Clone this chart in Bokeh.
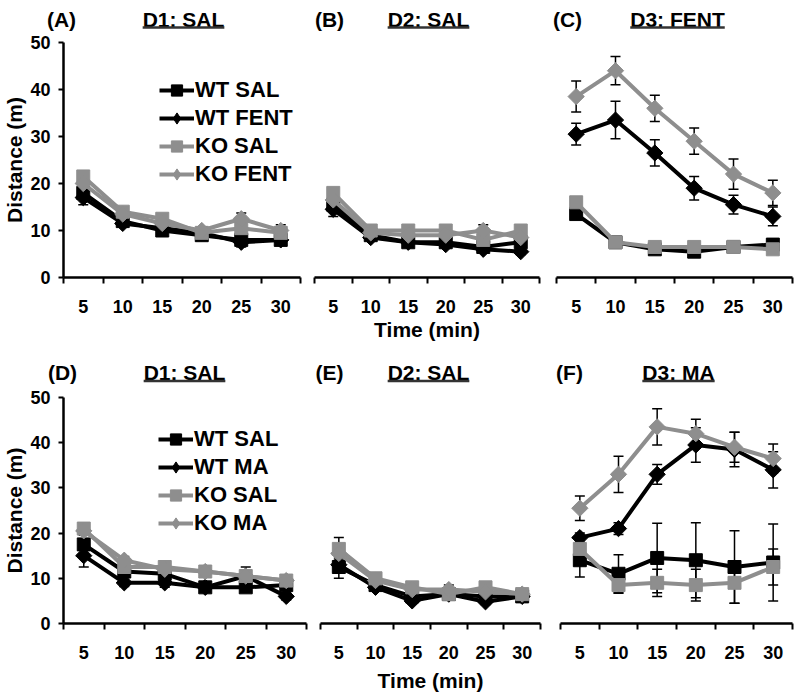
import numpy as np
from bokeh.plotting import figure
from bokeh.models import (Range1d, FixedTicker, Legend, LegendItem, Whisker, TeeHead,
                          ColumnDataSource)
from bokeh.core.properties import value
from bokeh.layouts import row, column
from bokeh.embed import file_html
from bokeh.resources import INLINE

# ---------------- data ----------------
times = [5, 10, 15, 20, 25, 30]
y_ticks = [0, 10, 20, 30, 40, 50]

panel_tags_top = ["(A)", "(B)", "(C)"]
panel_names_top = ["D1: SAL", "D2: SAL", "D3: FENT"]
panel_tags_bot = ["(D)", "(E)", "(F)"]
panel_names_bot = ["D1: SAL", "D2: SAL", "D3: MA"]

# (A) D1: SAL  (fentanyl cohort)
wt_sal_A = [18.0, 12.0, 10.0, 9.0, 8.0, 8.0]
wt_fent_A = [17.0, 11.5, 10.5, 9.5, 7.5, 8.0]
ko_sal_A = [21.5, 14.0, 12.5, 9.5, 10.5, 9.5]
ko_fent_A = [20.0, 13.5, 11.5, 10.0, 12.5, 10.0]
err_wt_sal_A = [1.0, 0.8, 0.8, 0.8, 0.8, 0.8]
err_wt_fent_A = [1.5, 0.8, 0.8, 0.8, 1.0, 0.8]
err_ko_sal_A = [1.2, 0.8, 0.8, 0.8, 1.0, 1.0]
err_ko_fent_A = [1.2, 0.8, 0.8, 0.8, 1.2, 1.2]

# (B) D2: SAL
wt_sal_B = [15.5, 9.0, 7.5, 7.5, 6.5, 7.5]
wt_fent_B = [14.5, 8.5, 7.5, 7.0, 6.0, 5.5]
ko_sal_B = [18.0, 10.0, 10.0, 10.0, 8.0, 10.0]
ko_fent_B = [16.5, 9.5, 9.0, 9.0, 10.0, 8.5]
err_wt_sal_B = [1.0, 0.6, 0.6, 0.6, 0.6, 0.6]
err_wt_fent_B = [1.5, 0.6, 0.6, 0.6, 0.6, 0.6]
err_ko_sal_B = [1.0, 0.6, 0.6, 0.6, 0.8, 0.8]
err_ko_fent_B = [1.0, 0.6, 0.6, 0.6, 1.2, 0.8]

# (C) D3: FENT
wt_sal_C = [13.5, 7.5, 6.0, 5.5, 6.5, 7.0]
wt_fent_C = [30.5, 33.5, 26.5, 19.0, 15.5, 13.0]
ko_sal_C = [16.0, 7.5, 6.5, 6.5, 6.5, 6.0]
ko_fent_C = [38.5, 44.0, 36.0, 29.0, 22.0, 18.0]
err_wt_sal_C = [0.8, 0.6, 0.6, 0.6, 0.6, 0.6]
err_wt_fent_C = [2.3, 4.0, 2.8, 2.5, 2.0, 2.0]
err_ko_sal_C = [0.8, 0.6, 0.6, 0.6, 0.6, 0.6]
err_ko_fent_C = [3.3, 3.0, 2.8, 2.8, 3.2, 2.7]

# (D) D1: SAL  (methamphetamine cohort)
wt_sal_D = [17.5, 11.5, 11.0, 8.0, 8.0, 8.5]
wt_ma_D = [15.0, 9.0, 9.0, 8.0, 10.5, 6.0]
ko_sal_D = [21.0, 12.5, 12.5, 11.5, 10.5, 9.5]
ko_ma_D = [20.5, 14.0, 12.0, 11.5, 10.5, 9.5]
err_wt_sal_D = [1.2, 0.8, 0.8, 0.8, 1.0, 0.8]
err_wt_ma_D = [2.5, 0.8, 1.0, 0.8, 0.8, 0.8]
err_ko_sal_D = [1.0, 0.8, 0.8, 0.8, 1.0, 0.8]
err_ko_ma_D = [1.0, 0.8, 0.8, 0.8, 2.0, 0.8]

# (E) D2: SAL
wt_sal_E = [12.5, 8.5, 6.0, 6.5, 6.0, 6.0]
wt_ma_E = [13.0, 8.0, 5.0, 6.5, 4.8, 6.0]
ko_sal_E = [16.5, 10.0, 8.0, 6.5, 8.0, 6.5]
ko_ma_E = [15.5, 9.5, 7.5, 7.5, 7.0, 6.5]
err_wt_sal_E = [2.5, 0.6, 0.6, 0.6, 0.6, 0.6]
err_wt_ma_E = [1.5, 0.6, 0.6, 0.6, 0.6, 0.6]
err_ko_sal_E = [2.5, 0.6, 0.6, 0.6, 0.6, 0.6]
err_ko_ma_E = [1.5, 0.6, 0.6, 1.0, 0.6, 0.6]

# (F) D3: MA
wt_sal_F = [14.0, 11.0, 14.5, 14.0, 12.5, 13.5]
wt_ma_F = [19.0, 21.0, 33.0, 39.5, 38.5, 34.0]
ko_sal_F = [16.5, 8.5, 9.0, 8.5, 9.0, 12.5]
ko_ma_F = [25.5, 33.0, 43.5, 42.0, 39.0, 36.5]
err_wt_sal_F = [3.7, 4.2, 7.7, 8.3, 8.0, 8.5]
err_wt_ma_F = [1.0, 1.3, 2.2, 3.8, 3.8, 4.0]
err_ko_sal_F = [2.0, 1.8, 3.0, 3.5, 4.5, 4.0]
err_ko_ma_F = [2.7, 4.0, 4.0, 3.2, 3.3, 3.2]

# ---------------- style ----------------
FONT = "Liberation Sans"
BLACK = "#000000"
GREY = "#8e8e8e"
HALF = (times[1] - times[0]) / 2.0
X0, X1 = times[0] - HALF, times[-1] + HALF
boundaries = [t - HALF for t in times] + [times[-1] + HALF]

# Liberation Sans Bold advance widths (em), used for the underline length
EM = {"D": .722, "1": .556, "2": .556, "3": .556, ":": .333, " ": .278, "S": .667,
      "A": .722, "L": .611, "F": .611, "E": .667, "N": .722, "T": .611, "M": .833}
TITLE_PX = 21
TOTAL_W = 794


def make_panel(width, height, bl, br, bt, bb, yaxis=False, xlabel=None, xlab_standoff=2):
    p = figure(width=width, height=height, x_range=Range1d(X0, X1), y_range=Range1d(0, 50),
               output_backend="svg", toolbar_location=None, title=None,
               y_axis_location="left" if yaxis else None,
               min_border_left=bl, min_border_right=br, min_border_top=bt, min_border_bottom=bb)
    p.outline_line_color = None
    p.xgrid.visible = False
    p.ygrid.visible = False
    xa = p.xaxis[0]
    xa.ticker = FixedTicker(ticks=times, minor_ticks=boundaries)
    xa.axis_line_width = 2.5
    xa.axis_line_color = BLACK
    xa.major_tick_line_color = None
    xa.major_tick_out = 0
    xa.major_tick_in = 0
    xa.minor_tick_out = 6
    xa.minor_tick_in = 0
    xa.minor_tick_line_width = 2
    xa.minor_tick_line_color = BLACK
    xa.major_label_text_font = FONT
    xa.major_label_text_font_style = "bold"
    xa.major_label_text_font_size = "18px"
    xa.major_label_text_color = BLACK
    xa.major_label_standoff = 16
    if xlabel:
        xa.axis_label = xlabel
        xa.axis_label_text_font = FONT
        xa.axis_label_text_font_style = "bold"
        xa.axis_label_text_font_size = "21px"
        xa.axis_label_text_color = BLACK
        xa.axis_label_standoff = xlab_standoff
    if yaxis:
        ya = p.yaxis[0]
        ya.ticker = FixedTicker(ticks=y_ticks, minor_ticks=[])
        ya.axis_line_width = 2.5
        ya.axis_line_color = BLACK
        ya.major_tick_out = 5
        ya.major_tick_in = 0
        ya.major_tick_line_width = 2
        ya.major_tick_line_color = BLACK
        ya.major_label_text_font = FONT
        ya.major_label_text_font_style = "bold"
        ya.major_label_text_font_size = "18px"
        ya.major_label_text_color = BLACK
        ya.major_label_standoff = 8
        ya.axis_label = "Distance (m)"
        ya.axis_label_text_font = FONT
        ya.axis_label_text_font_style = "bold"
        ya.axis_label_text_font_size = "21px"
        ya.axis_label_text_color = BLACK
        ya.axis_label_standoff = 1
    return p


def draw(p, series, legend_loc=None):
    items = []
    for name, y, err, color, marker in series:
        y = np.asarray(y, float)
        e = np.asarray(err, float)
        src = ColumnDataSource(dict(x=times, y=y, upper=y + e, lower=y - e))
        w = Whisker(source=src, base="x", upper="upper", lower="lower",
                    line_color=BLACK, line_width=1.5,
                    upper_head=TeeHead(size=10, line_color=BLACK, line_width=1.5),
                    lower_head=TeeHead(size=10, line_color=BLACK, line_width=1.5))
        p.add_layout(w)
        l = p.line("x", "y", source=src, line_color=color, line_width=4)
        if marker == "square":
            s = p.scatter("x", "y", source=src, marker="square", size=13,
                          fill_color=color, line_color=color)
        else:
            # plain diamond (used by the legend), covered by the wider Excel-style diamond
            s = p.scatter("x", "y", source=src, marker="diamond", size=14,
                          fill_color=color, line_color=color)
            p.scatter("x", "y", source=src, marker="square", angle=np.pi / 4, size=11.5,
                      fill_color=color, line_color=color)
        items.append(LegendItem(label=name, renderers=[l, s]))
    if legend_loc is not None:
        leg = Legend(items=items, location=legend_loc, orientation="vertical",
                     background_fill_alpha=0, border_line_color=None,
                     padding=0, margin=0, spacing=0,
                     glyph_width=35, glyph_height=28, label_height=28, label_standoff=1,
                     label_text_font=FONT, label_text_font_style="bold",
                     label_text_font_size="22px", label_text_color=BLACK,
                     label_text_baseline="middle")
        p.add_layout(leg)


def title_strip(height, tags, tag_xs, names, name_xs, cy):
    s = figure(width=TOTAL_W, height=height, x_range=Range1d(0, TOTAL_W),
               y_range=Range1d(height, 0), output_backend="svg", toolbar_location=None,
               title=None, x_axis_location=None, y_axis_location=None,
               min_border_left=0, min_border_right=0, min_border_top=0, min_border_bottom=0)
    s.outline_line_color = None
    s.xgrid.visible = False
    s.ygrid.visible = False
    s.text(x=tag_xs, y=[cy] * len(tags), text=tags, text_font=value(FONT),
           text_font_style="bold", text_font_size=f"{TITLE_PX}px", text_color=BLACK,
           text_align="center", text_baseline="middle")
    s.text(x=name_xs, y=[cy] * len(names), text=names, text_font=value(FONT),
           text_font_style="bold", text_font_size=f"{TITLE_PX}px", text_color=BLACK,
           text_align="center", text_baseline="middle")
    halfw = [sum(EM.get(c, .6) for c in n) * TITLE_PX / 2.0 for n in names]
    s.segment(x0=[x - h for x, h in zip(name_xs, halfw)], x1=[x + h for x, h in zip(name_xs, halfw)],
              y0=[cy + 8.5] * len(names), y1=[cy + 8.5] * len(names),
              line_color="#333333", line_width=2.5)
    return s


# ---------------- layout ----------------
# vertical: strip 0..31 | top row 31..343 (frame 42..277) | strip 343..386 | bottom row 386..694 (frame 397..624)
TOP_H, BOT_H = 312, 308
pa = make_panel(304, TOP_H, 62, 4, 11, 66, yaxis=True)
pb = make_panel(242, TOP_H, 10, 7, 11, 66, xlabel="Time (min)", xlab_standoff=2)
pc = make_panel(248, TOP_H, 10, 2, 11, 66)
pd = make_panel(310, BOT_H, 62, 4, 11, 70, yaxis=True)
pe = make_panel(240, BOT_H, 10, 10, 11, 70, xlabel="Time (min)", xlab_standoff=7)
pf = make_panel(244, BOT_H, 10, 2, 11, 70)

draw(pa, [("WT SAL", wt_sal_A, err_wt_sal_A, BLACK, "square"),
          ("WT FENT", wt_fent_A, err_wt_fent_A, BLACK, "diamond"),
          ("KO SAL", ko_sal_A, err_ko_sal_A, GREY, "square"),
          ("KO FENT", ko_fent_A, err_ko_fent_A, GREY, "diamond")], legend_loc=(96, 89))
draw(pb, [("WT SAL", wt_sal_B, err_wt_sal_B, BLACK, "square"),
          ("WT FENT", wt_fent_B, err_wt_fent_B, BLACK, "diamond"),
          ("KO SAL", ko_sal_B, err_ko_sal_B, GREY, "square"),
          ("KO FENT", ko_fent_B, err_ko_fent_B, GREY, "diamond")])
draw(pc, [("WT SAL", wt_sal_C, err_wt_sal_C, BLACK, "square"),
          ("WT FENT", wt_fent_C, err_wt_fent_C, BLACK, "diamond"),
          ("KO SAL", ko_sal_C, err_ko_sal_C, GREY, "square"),
          ("KO FENT", ko_fent_C, err_ko_fent_C, GREY, "diamond")])
draw(pd, [("WT SAL", wt_sal_D, err_wt_sal_D, BLACK, "square"),
          ("WT MA", wt_ma_D, err_wt_ma_D, BLACK, "diamond"),
          ("KO SAL", ko_sal_D, err_ko_sal_D, GREY, "square"),
          ("KO MA", ko_ma_D, err_ko_ma_D, GREY, "diamond")], legend_loc=(95, 86))
draw(pe, [("WT SAL", wt_sal_E, err_wt_sal_E, BLACK, "square"),
          ("WT MA", wt_ma_E, err_wt_ma_E, BLACK, "diamond"),
          ("KO SAL", ko_sal_E, err_ko_sal_E, GREY, "square"),
          ("KO MA", ko_ma_E, err_ko_ma_E, GREY, "diamond")])
draw(pf, [("WT SAL", wt_sal_F, err_wt_sal_F, BLACK, "square"),
          ("WT MA", wt_ma_F, err_wt_ma_F, BLACK, "diamond"),
          ("KO SAL", ko_sal_F, err_ko_sal_F, GREY, "square"),
          ("KO MA", ko_ma_F, err_ko_ma_F, GREY, "diamond")])

strip_top = title_strip(31, panel_tags_top, [61, 329, 567], panel_names_top, [183, 428, 677], 18.5)
strip_bot = title_strip(43, panel_tags_bot, [62, 329, 569], panel_names_bot, [184, 428, 678], 29)

layout = column(strip_top, row(pa, pb, pc), strip_bot, row(pd, pe, pf))
open("out.html", "w").write(file_html(layout, INLINE))
